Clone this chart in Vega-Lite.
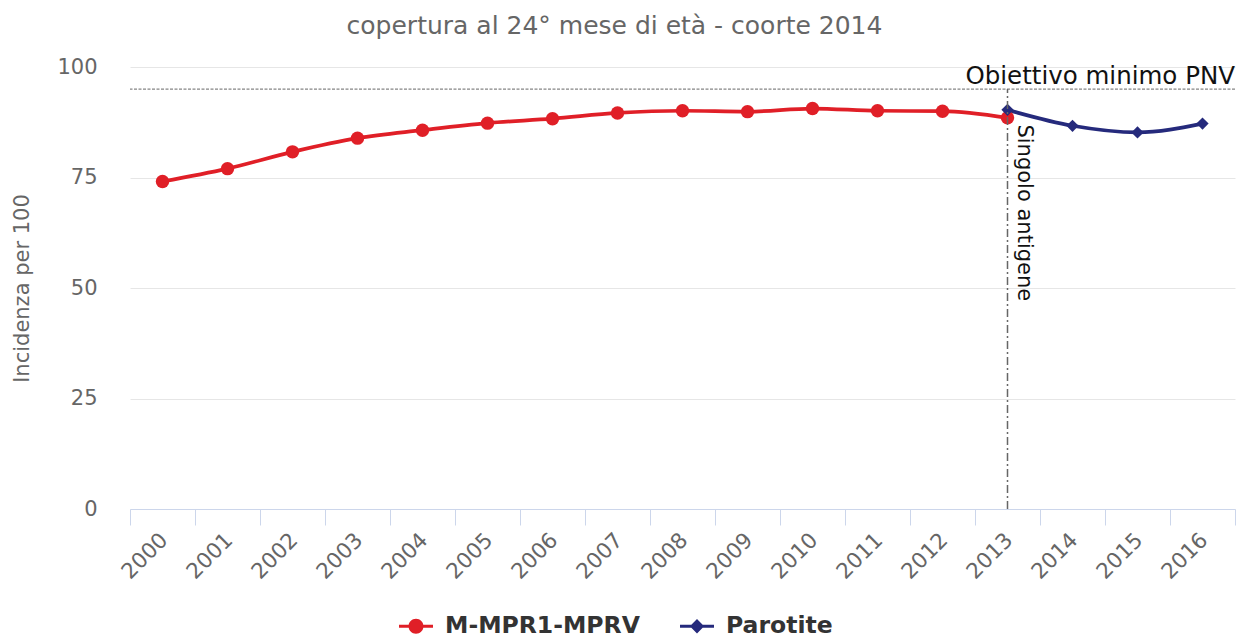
{
  "$schema": "https://vega.github.io/schema/vega-lite/v6.json",
  "width": 1105,
  "height": 442,
  "autosize": {"type": "none"},
  "padding": {"left": 130, "top": 67, "right": 6, "bottom": 130},
  "background": "white",
  "config": {"font": "DejaVu Sans", "view": {"stroke": null}},
  "title": {
    "text": "copertura al 24° mese di età - coorte 2014",
    "font": "DejaVu Sans",
    "fontSize": 25,
    "fontWeight": "normal",
    "color": "#666666",
    "frame": "group",
    "anchor": "middle",
    "dx": -68,
    "offset": 17
  },
  "data": {
    "values": [
      {"year": "2000", "series": "M-MPR1-MPRV", "value": 74.1},
      {"year": "2001", "series": "M-MPR1-MPRV", "value": 77.0},
      {"year": "2002", "series": "M-MPR1-MPRV", "value": 80.8},
      {"year": "2003", "series": "M-MPR1-MPRV", "value": 83.9},
      {"year": "2004", "series": "M-MPR1-MPRV", "value": 85.7},
      {"year": "2005", "series": "M-MPR1-MPRV", "value": 87.3},
      {"year": "2006", "series": "M-MPR1-MPRV", "value": 88.3},
      {"year": "2007", "series": "M-MPR1-MPRV", "value": 89.6},
      {"year": "2008", "series": "M-MPR1-MPRV", "value": 90.1},
      {"year": "2009", "series": "M-MPR1-MPRV", "value": 89.9},
      {"year": "2010", "series": "M-MPR1-MPRV", "value": 90.6},
      {"year": "2011", "series": "M-MPR1-MPRV", "value": 90.1},
      {"year": "2012", "series": "M-MPR1-MPRV", "value": 90.0},
      {"year": "2013", "series": "M-MPR1-MPRV", "value": 88.5},
      {"year": "2013", "series": "Parotite", "value": 90.3},
      {"year": "2014", "series": "Parotite", "value": 86.7},
      {"year": "2015", "series": "Parotite", "value": 85.2},
      {"year": "2016", "series": "Parotite", "value": 87.2}
    ]
  },
  "encoding": {
    "x": {
      "field": "year",
      "type": "ordinal",
      "scale": {"type": "band", "paddingInner": 0, "paddingOuter": 0, "domain": ["2000","2001","2002","2003","2004","2005","2006","2007","2008","2009","2010","2011","2012","2013","2014","2015","2016"]},
      "axis": {
        "title": null,
        "labelAngle": -45,
        "labelAlign": "right",
        "labelBaseline": "top",
        "labelFont": "DejaVu Sans",
        "labelFontSize": 21.5,
        "labelColor": "#666666",
        "domainColor": "#ccd6eb",
        "tickColor": "#ccd6eb",
        "tickSize": 16,
        "tickBand": "extent",
        "labelPadding": 4,
        "labelOffset": -6,
        "grid": false
      }
    },
    "y": {
      "field": "value",
      "type": "quantitative",
      "scale": {"domain": [0, 100], "nice": false},
      "axis": {
        "title": "Incidenza per 100",
        "titleFont": "DejaVu Sans",
        "titleFontSize": 21,
        "titleFontWeight": "normal",
        "titleColor": "#666666",
        "titlePadding": 24,
        "values": [0, 25, 50, 75, 100],
        "labelFont": "DejaVu Sans",
        "labelFontSize": 21,
        "labelColor": "#666666",
        "domain": false,
        "ticks": false,
        "labelPadding": 33,
        "gridColor": "#e6e6e6",
        "gridWidth": 1
      }
    }
  },
  "layer": [
    {
      "mark": {"type": "line", "interpolate": "monotone", "strokeWidth": 3.7},
      "encoding": {
        "color": {
          "field": "series",
          "type": "nominal",
          "scale": {"domain": ["M-MPR1-MPRV", "Parotite"], "range": ["#e01f27", "#252a7c"]},
          "legend": {
            "orient": "none",
            "legendX": 269,
            "legendY": 542,
            "direction": "horizontal",
            "title": null,
            "symbolSize": 1156,
            "symbolStrokeWidth": 0,
            "labelFont": "DejaVu Sans",
            "labelFontSize": 23.5,
            "labelFontWeight": "bold",
            "labelColor": "#333333",
            "labelOffset": 12,
            "labelLimit": 0,
            "columnPadding": 40,
            "encode": {
              "symbols": {
                "update": {
                  "shape": {"signal": "datum.value === 'Parotite' ? 'M-1,-0.09L1,-0.09L1,0.09L-1,0.09Z M0,-0.42L0.42,0L0,0.42L-0.42,0Z' : 'M-1,-0.09L1,-0.09L1,0.09L-1,0.09Z M-0.44,0A0.44,0.44 0 1,1 0.44,0A0.44,0.44 0 1,1 -0.44,0Z'"},
                  "fill": {"signal": "scale('color', datum.value)"},
                  "fillOpacity": {"value": 1},
                  "opacity": {"value": 1},
                  "strokeWidth": {"value": 0}
                }
              }
            }
          }
        }
      }
    },
    {
      "transform": [{"filter": "datum.series === 'M-MPR1-MPRV'"}],
      "mark": {"type": "point", "shape": "circle", "filled": true, "size": 180, "opacity": 1},
      "encoding": {"color": {"field": "series", "type": "nominal", "legend": null}}
    },
    {
      "transform": [{"filter": "datum.series === 'Parotite'"}],
      "mark": {"type": "point", "shape": "diamond", "filled": true, "size": 150, "opacity": 1},
      "encoding": {"color": {"field": "series", "type": "nominal", "legend": null}}
    },
    {
      "data": {"values": [{"target": 95}]},
      "mark": {"type": "rule", "color": "#666666", "strokeDash": [3, 1.5], "strokeWidth": 1},
      "encoding": {"y": {"field": "target", "type": "quantitative"}, "x": null}
    },
    {
      "data": {"values": [{"target": 95, "label": "Obiettivo minimo PNV", "year": "2016"}]},
      "mark": {"type": "text", "align": "right", "baseline": "alphabetic", "dy": -5, "fontSize": 24.5, "color": "#111111", "font": "DejaVu Sans"},
      "encoding": {
        "x": {"field": "year", "type": "ordinal", "bandPosition": 1},
        "y": {"field": "target", "type": "quantitative"},
        "text": {"field": "label"}
      }
    },
    {
      "data": {"values": [{"year": "2013", "low": 0, "high": 95}]},
      "mark": {"type": "rule", "color": "#666666", "strokeDash": [8, 3, 2, 3], "strokeWidth": 1.5},
      "encoding": {
        "x": {"field": "year", "type": "ordinal"},
        "y": {"field": "low", "type": "quantitative"},
        "y2": {"field": "high"}
      }
    },
    {
      "data": {"values": [{"year": "2013", "pos": 87, "label": "Singolo antigene"}]},
      "mark": {"type": "text", "angle": 90, "align": "left", "baseline": "bottom", "dy": -6, "fontSize": 21, "color": "#111111", "font": "DejaVu Sans"},
      "encoding": {
        "x": {"field": "year", "type": "ordinal"},
        "y": {"field": "pos", "type": "quantitative"},
        "text": {"field": "label"}
      }
    }
  ]
}
